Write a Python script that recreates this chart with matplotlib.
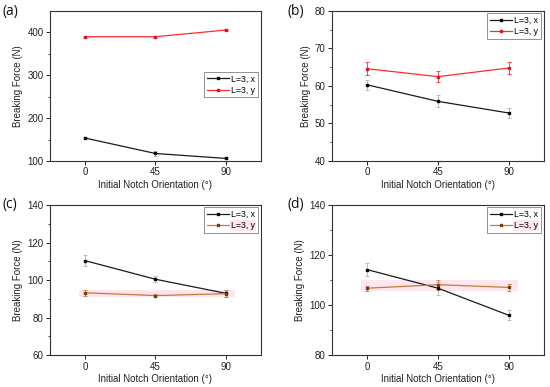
import matplotlib
matplotlib.use("Agg")
import matplotlib.pyplot as plt
import numpy as np

plt.rcParams['font.family'] = ['Liberation Sans', 'DejaVu Sans']

angles = [0, 45, 90]

# (a)
a_x = [153.5, 117.5, 106.0]
a_x_err = [3.0, 5.0, 2.5]
a_y = [390.0, 390.0, 405.5]
a_y_err = [2.0, 2.0, 2.0]

# (b)
b_x = [60.3, 55.9, 52.8]
b_x_err = [1.3, 1.6, 1.3]
b_y = [64.6, 62.5, 64.8]
b_y_err = [1.8, 1.4, 1.6]

# (c)
c_x = [110.4, 100.5, 93.0]
c_x_err = [2.8, 1.5, 2.0]
c_y = [93.3, 91.8, 92.8]
c_y_err = [1.5, 1.0, 2.0]

# (d)
d_x = [114.2, 106.8, 96.0]
d_x_err = [2.6, 2.6, 2.0]
d_y = [106.8, 108.2, 107.1]
d_y_err = [1.0, 2.0, 1.5]

labels = ['L=3, x', 'L=3, y']

panels = [
  dict(tag='(a)', x=a_x, xe=a_x_err, y=a_y, ye=a_y_err, ylim=(100, 450), yt=[100, 200, 300, 400],
       ycol='#ff2a2a', ymk='#e0102a', band=False, leg=dict(loc='center right', bbox_to_anchor=(0.985, 0.51))),
  dict(tag='(b)', x=b_x, xe=b_x_err, y=b_y, ye=b_y_err, ylim=(40, 80), yt=[40, 50, 60, 70, 80],
       ycol='#ff2a2a', ymk='#e0102a', band=False, leg=dict(loc='upper right', bbox_to_anchor=(0.985, 0.985))),
  dict(tag='(c)', x=c_x, xe=c_x_err, y=c_y, ye=c_y_err, ylim=(60, 140), yt=[60, 80, 100, 120, 140],
       ycol='#c47a40', ymk='#7a3d10', band=True, leg=dict(loc='upper right', bbox_to_anchor=(0.985, 0.985))),
  dict(tag='(d)', x=d_x, xe=d_x_err, y=d_y, ye=d_y_err, ylim=(80, 140), yt=[80, 100, 120, 140],
       ycol='#c47a40', ymk='#7a3d10', band=True, leg=dict(loc='upper right', bbox_to_anchor=(0.985, 0.985))),
]

rects = [
  [0.0909, 0.584, 0.3836, 0.3876],
  [0.6036, 0.584, 0.3855, 0.3876],
  [0.0909, 0.082, 0.3836, 0.3880],
  [0.6036, 0.082, 0.3855, 0.3880],
]
tag_pos = [(0.004, 0.99), (0.522, 0.99), (0.004, 0.49), (0.522, 0.49)]

fig = plt.figure(figsize=(5.5, 3.87), dpi=100)

for p, r, tp in zip(panels, rects, tag_pos):
  ax = fig.add_axes(r)

  """ faint pink highlight round the y series """
  if p['band']:
    lo = min(np.array(p['y']) - np.array(p['ye']))
    hi = max(np.array(p['y']) + np.array(p['ye']))
    ax.fill_between([-4, 96], [lo, lo], [hi, hi], color='#fde6ee', lw=0, zorder=0)

  cx = ax.errorbar(angles, p['x'], yerr=p['xe'], color='#1a1a1a', lw=0.9, marker='s', ms=1.8,
                   mfc='#000000', mec='#000000', ecolor='#b0b0b0', elinewidth=0.6, capsize=1.5,
                   capthick=0.6, zorder=3)
  cy = ax.errorbar(angles, p['y'], yerr=p['ye'], color=p['ycol'], lw=0.9, marker='s', ms=1.8,
                   mfc=p['ymk'], mec=p['ymk'], ecolor=p['ycol'], elinewidth=0.6, capsize=1.5,
                   capthick=0.6, zorder=3)

  ax.set_xlim(-22.5, 112.5)
  ax.set_ylim(*p['ylim'])
  ax.set_xticks(angles)
  ax.set_yticks(p['yt'])
  step = p['yt'][1] - p['yt'][0]
  ax.set_yticks(np.arange(p['ylim'][0] + step / 2, p['ylim'][1], step), minor=True)

  ax.tick_params(direction='out', length=3, width=0.7, labelsize=7, pad=1.5, colors='#222222')
  ax.tick_params(axis='y', which='minor', direction='out', length=1.8, width=0.6, colors='#222222')
  for s in ax.spines.values():
    s.set_linewidth(0.8)
    s.set_color('#333333')

  ax.set_xlabel('Initial Notch Orientation (°)', fontsize=7, labelpad=2, color='#222222')
  ax.set_ylabel('Breaking Force (N)', fontsize=7, labelpad=3, color='#222222')

  leg = ax.legend([cx[0], cy[0]], labels, fontsize=6.3, frameon=True, fancybox=False,
                  edgecolor='#666666', framealpha=1, borderpad=0.3, labelspacing=0.25,
                  handlelength=2.6, handletextpad=0.2, borderaxespad=0, numpoints=1, **p['leg'])
  leg.get_frame().set_linewidth(0.5)
  if p['band']:
    leg.get_texts()[1].set_bbox(dict(facecolor='#fde6ee', edgecolor='none', pad=0.6))

  fig.text(tp[0], tp[1], p['tag'], fontsize=10, family=['Open Sans', 'DejaVu Sans'],
           va='top', ha='left', color='#111111')

fig.savefig('out.png', dpi=100)
